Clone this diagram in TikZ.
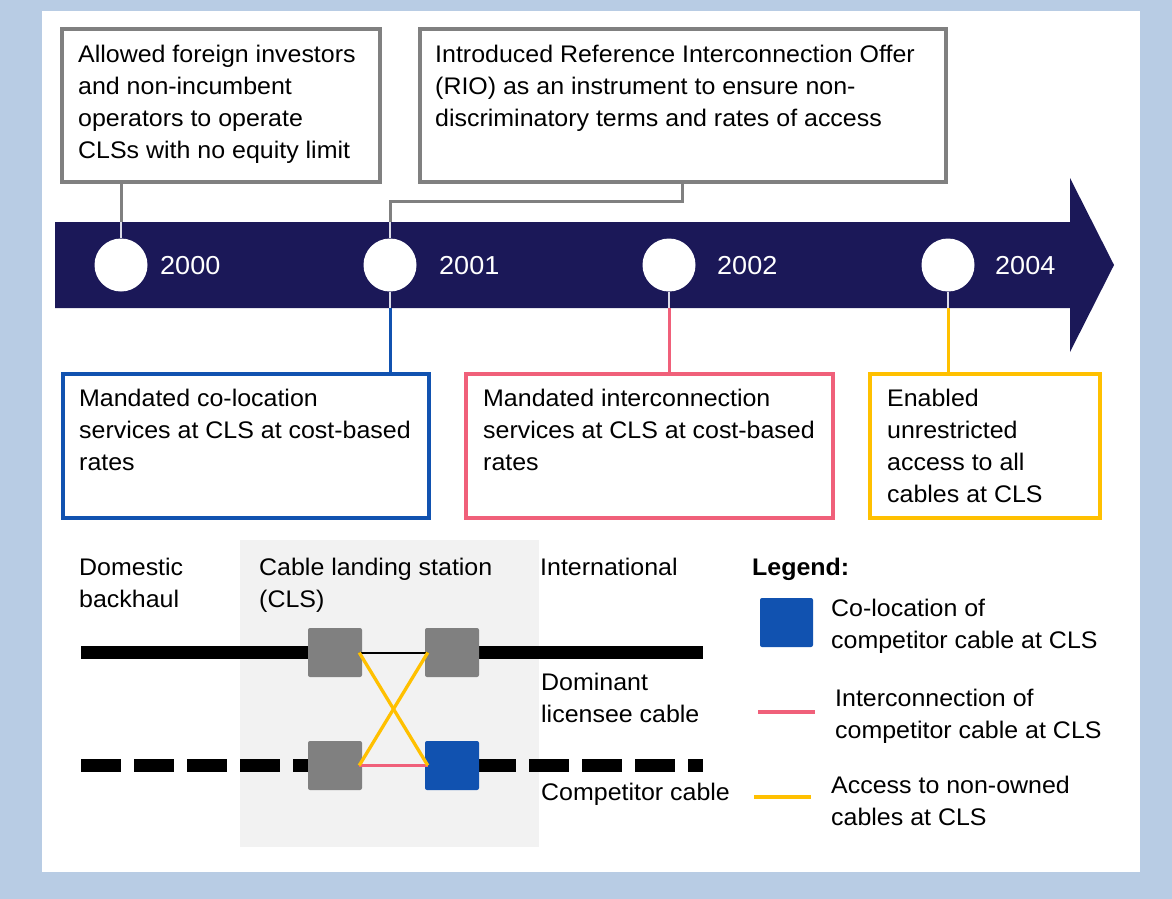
\documentclass[tikz,border=0pt]{standalone}
\usepackage{fontspec}
\setmainfont{Liberation Sans}[FakeStretch=1.04]
\definecolor{bgblue}{HTML}{B8CCE4}
\definecolor{navy}{HTML}{1B1858}
\definecolor{boxgray}{HTML}{808080}
\definecolor{cblue}{HTML}{1152B0}
\definecolor{cpink}{HTML}{F0607A}
\definecolor{cyellow}{HTML}{FFC000}
\definecolor{clsgray}{HTML}{F2F2F2}
\definecolor{inwhite}{HTML}{DCDCE8}
\newcommand{\fsz}{\fontsize{24}{32}\selectfont}
\newcommand{\fl}{\rule{0pt}{20pt}}
\tikzset{
  txt/.style={anchor=north west, inner sep=0pt, align=left, font=\fsz, text=black},
  yeartxt/.style={anchor=base west, inner sep=0pt, font=\fontsize{26}{30}\selectfont, text=white},
  evbox/.style={draw=#1, line width=4pt, fill=white, anchor=north west, inner sep=0pt},
  tdot/.style={circle, fill=white, minimum size=53pt, inner sep=0pt},
  sq/.style={rounded corners=2pt, minimum width=54pt, minimum height=49pt, inner sep=0pt, draw=none},
  conn/.style={line width=3pt, #1},
  inconn/.style={line width=2pt, inwhite},
  cable/.style={line width=13pt, black},
}
\begin{document}
\begin{tikzpicture}[x=1pt,y=-1pt]
\useasboundingbox (0,0) rectangle (1172,899);
\fill[bgblue] (0,0) rectangle (1172,899);
\fill[white] (42,11) rectangle (1140,872);

% arrow
\fill[navy] (55,222) -- (1070,222) -- (1070,178) -- (1114,265) -- (1070,352) -- (1070,308) -- (55,308) -- cycle;
\coordinate (atop) at (0,222);
\coordinate (abot) at (0,308);

% timeline dots
\node[tdot] (c1) at (121,265) {};
\node[tdot] (c2) at (390,265) {};
\node[tdot] (c3) at (669,265) {};
\node[tdot] (c4) at (948,265) {};
\node[yeartxt] (y1) at (160,274) {2000};
\node[yeartxt] (y2) at (439,274) {2001};
\node[yeartxt] (y3) at (717,274) {2002};
\node[yeartxt] (y4) at (995,274) {2004};

% boxes
\node[evbox=boxgray, minimum width=318pt, minimum height=153pt] (b1) at (60,27) {};
\node[evbox=boxgray, minimum width=526pt, minimum height=153pt] (b2) at (418,27) {};
\node[evbox=cblue, minimum width=366pt, minimum height=144pt] (b3) at (61,372) {};
\node[evbox=cpink, minimum width=367pt, minimum height=144pt] (b4) at (464,372) {};
\node[evbox=cyellow, minimum width=230pt, minimum height=144pt] (b5) at (868,372) {};

\node[txt] (t1) at (78,42) {\fl Allowed foreign investors\\and non-incumbent\\operators to operate\\CLSs with no equity limit};
\node[txt] (t2) at (435,42) {\fl Introduced Reference Interconnection Offer\\(RIO) as an instrument to ensure non-\\discriminatory terms and rates of access};
\node[txt] (t3) at (79,386) {\fl Mandated co-location\\services at CLS at cost-based\\rates};
\node[txt] (t4) at (483,386) {\fl Mandated interconnection\\services at CLS at cost-based\\rates};
\node[txt] (t5) at (887,386) {\fl Enabled\\unrestricted\\access to all\\cables at CLS};

% connectors
\coordinate (k2) at (682,201);
\draw[conn=boxgray] (c1.north |- b1.south) -- (c1.north |- atop);
\draw[inconn] (c1.north |- atop) -- (c1.north);
\draw[conn=boxgray] (k2 |- b2.south) -- (k2) -- (c2.north |- k2) -- (c2.north |- atop);
\draw[inconn] (c2.north |- atop) -- (c2.north);
\draw[inconn] (c2.south) -- (c2.south |- abot);
\draw[conn=cblue] (c2.south |- abot) -- (c2.south |- b3.north);
\draw[inconn] (c3.south) -- (c3.south |- abot);
\draw[conn=cpink] (c3.south |- abot) -- (c3.south |- b4.north);
\draw[inconn] (c4.south) -- (c4.south |- abot);
\draw[conn=cyellow] (c4.south |- abot) -- (c4.south |- b5.north);

% CLS diagram
\fill[clsgray] (240,540) rectangle (539,847);
\node[txt] (dom) at (79,555) {\fl Domestic\\backhaul};
\node[txt] (cls) at (259,555) {\fl Cable landing station\\(CLS)};
\node[txt] (intl) at (540,555) {\fl International};
\node[txt] (domc) at (541,670) {\fl Dominant\\licensee cable};
\node[txt] (compc) at (541,780) {\fl Competitor cable};

\coordinate (tl) at (81,652.5);
\coordinate (tr) at (703,652.5);
\coordinate (bl) at (81,765.5);
\coordinate (bm) at (476,765.5);
\coordinate (br) at (703,765.5);
\draw[cable] (tl) -- (308,652.5);
\draw[cable] (479,652.5) -- (tr);
\draw[cable, dash pattern=on 40pt off 13pt] (bl) -- (320,765.5);
\draw[cable, dash pattern=on 40pt off 13pt] (bm) -- (br);

\node[sq, fill=boxgray] (sA) at (335,652.5) {};
\node[sq, fill=boxgray] (sB) at (452,652.5) {};
\node[sq, fill=boxgray] (sC) at (335,765.5) {};
\node[sq, fill=cblue] (sD) at (452,765.5) {};

\draw[line width=2pt, black] ([xshift=-3pt]sA.east) -- ([xshift=3pt]sB.west);
\draw[line width=3pt, cpink] ([xshift=-3pt]sC.east) -- ([xshift=3pt]sD.west);
\draw[line width=3.3pt, cyellow] ([xshift=-3pt]sA.east) -- ([xshift=3pt]sD.west);
\draw[line width=3.3pt, cyellow] ([xshift=3pt]sB.west) -- ([xshift=-3pt]sC.east);

% legend
\node[txt] (leg) at (752,555) {\fl\textbf{Legend:}};
\node[sq, fill=cblue, minimum width=53pt] (lsq) at (786.5,622.5) {};
\node[txt] (l1) at (831,596) {\fl Co-location of\\competitor cable at CLS};
\coordinate (lp1) at (758,712);
\coordinate (lp2) at (815,712);
\draw[line width=4pt, cpink] (lp1) -- (lp2);
\node[txt] (l2) at (835,686) {\fl Interconnection of\\competitor cable at CLS};
\coordinate (ly1) at (754,797);
\coordinate (ly2) at (811,797);
\draw[line width=4pt, cyellow] (ly1) -- (ly2);
\node[txt] (l3) at (831,773) {\fl Access to non-owned\\cables at CLS};
\end{tikzpicture}
\end{document}
